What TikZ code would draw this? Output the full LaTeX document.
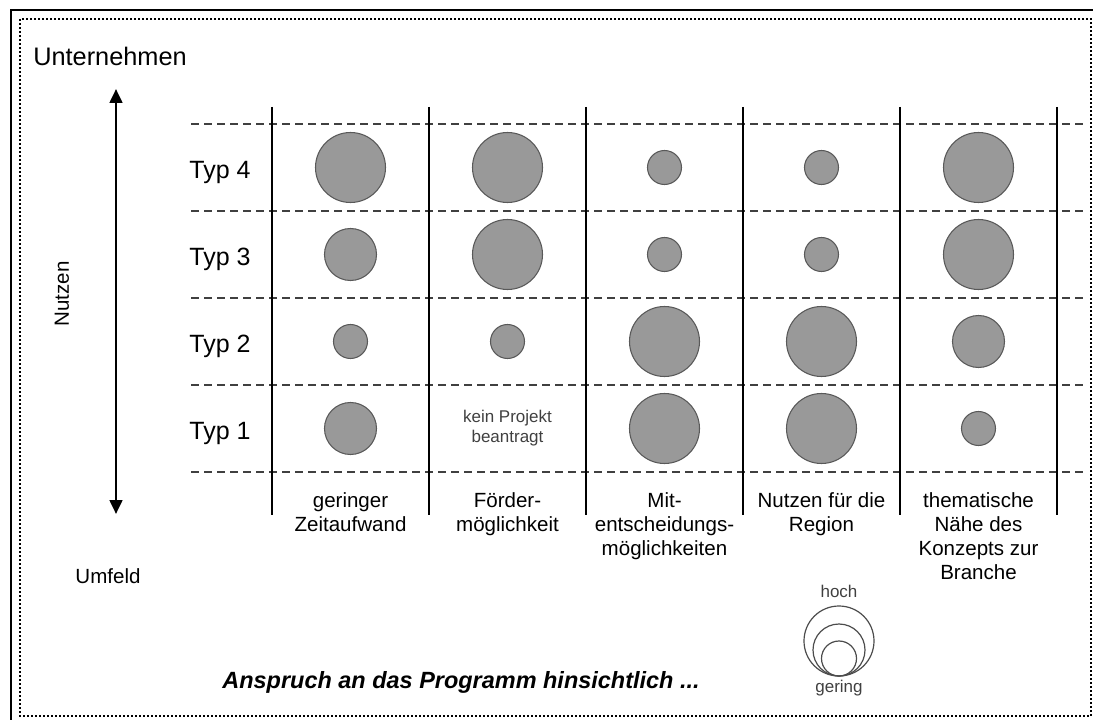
\documentclass[tikz,border=0pt]{standalone}
\usepackage{fontspec}
\setmainfont{Liberation Sans}
\usetikzlibrary{arrows.meta}
\begin{document}
\begin{tikzpicture}[x=0.75pt,y=-0.75pt,
  bub/.style={circle,draw=black!65,fill=black!40,line width=0.8pt,inner sep=0pt},
  bigb/.style={bub,minimum size=52.5pt},
  midb/.style={bub,minimum size=39pt},
  smallb/.style={bub,minimum size=25.5pt},
  ring/.style={circle,draw=black!70,line width=0.9pt,inner sep=0pt,anchor=south,outer sep=0pt},
  sepline/.style={line width=2.2pt},
  gridline/.style={black!75,line width=1.1pt,dash pattern=on 6pt off 3.75pt},
  collab/.style={font=\fontsize{15.4}{18}\selectfont,align=center,anchor=north,inner sep=0pt},
  typlab/.style={font=\fontsize{18.75}{22}\selectfont,anchor=base,inner sep=0pt},
  axislab/.style={font=\fontsize{15.4}{18}\selectfont,anchor=base,inner sep=0pt},
  smalltxt/.style={font=\fontsize{12.75}{15}\selectfont,text=black!75,align=center,inner sep=0pt}]
\useasboundingbox (0,0) rectangle (1093,720);

% frames
\draw[line width=2.2pt] (11,720) -- (11,10) -- (1093,10);
\draw[line width=1.5pt,dash pattern=on 1.5pt off 1.5pt] (20,19) rectangle (1091,716);

% vertical axis
\node[font=\fontsize{19}{22}\selectfont,anchor=base,inner sep=0pt] (unt) at (110,66) {Unternehmen};
\node[axislab] (umf) at (108,583) {Umfeld};
\node[font=\fontsize{15.4}{18}\selectfont,rotate=90,inner sep=0pt] (nutz) at (62,294) {Nutzen};
\coordinate (atop) at (116,89);
\coordinate (abot) at (116,514);
\draw[line width=2pt,{Triangle[width=9.5pt,length=10.5pt]}-{Triangle[width=9.5pt,length=10.5pt]}] (atop) -- (abot);

% grid
\foreach \j in {0,...,4}
  \draw[gridline] (191,{124+87*\j}) -- (1085,{124+87*\j});
\foreach \i in {0,...,5}
  \draw[sepline] ({272+157*\i},107) -- ({272+157*\i},515);

% row labels
\node[typlab] (t4) at (220,179) {Typ 4};
\node[typlab] (t3) at (220,266) {Typ 3};
\node[typlab] (t2) at (220,353) {Typ 2};
\node[typlab] (t1) at (220,440) {Typ 1};

% bubbles: row y, then sizes per column
\foreach \r/\y/\a/\b/\c/\d/\e in {
    4/167.5/bigb/bigb/smallb/smallb/bigb,
    3/254.5/midb/bigb/smallb/smallb/bigb,
    2/341.5/smallb/smallb/bigb/bigb/midb}
{
  \node[\a] (b\r-1) at (350.5,\y) {};
  \node[\b] (b\r-2) at (507.5,\y) {};
  \node[\c] (b\r-3) at (664.5,\y) {};
  \node[\d] (b\r-4) at (821.5,\y) {};
  \node[\e] (b\r-5) at (978.5,\y) {};
}
\node[midb] (b1-1) at (350.5,428.5) {};
\node[smalltxt] (kein) at (507.5,428) {kein Projekt\\beantragt};
\node[bigb] (b1-3) at (664.5,428.5) {};
\node[bigb] (b1-4) at (821.5,428.5) {};
\node[smallb] (b1-5) at (978.5,428.5) {};

% column labels
\node[collab] (k1) at (350.5,490) {\strut geringer\\Zeitaufwand};
\node[collab] (k2) at (507.5,490) {\strut Förder-\\möglichkeit};
\node[collab] (k3) at (664.5,490) {\strut Mit-\\entscheidungs-\\möglichkeiten};
\node[collab] (k4) at (821.5,490) {\strut Nutzen für die\\Region};
\node[collab] (k5) at (978.5,490) {\strut thematische\\Nähe des\\Konzepts zur\\Branche};

% caption and legend
\node[font=\fontsize{17.6}{20}\selectfont\bfseries\itshape,anchor=base,inner sep=0pt] (cap) at (461,688) {Anspruch an das Programm hinsichtlich ...};
\node[ring,minimum size=52.5pt] (r3) at (839,676) {};
\node[ring,minimum size=39pt] (r2) at (839,676) {};
\node[ring,minimum size=26.25pt] (r1) at (839,676) {};
\node[smalltxt,anchor=base] (hoch) at (839,597) {hoch};
\node[smalltxt,anchor=base] (ger) at (839,692) {gering};
\end{tikzpicture}
\end{document}
